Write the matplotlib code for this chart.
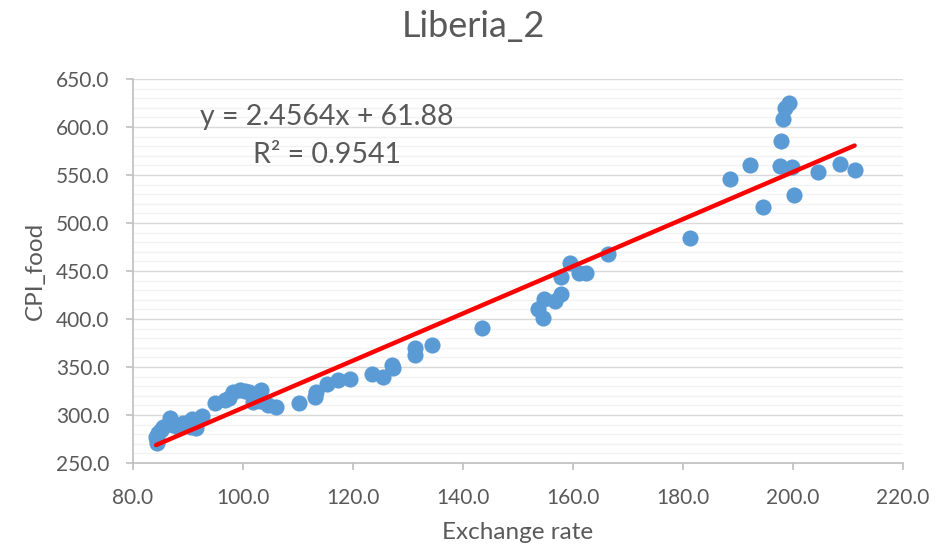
import matplotlib
matplotlib.use("Agg")
import matplotlib.pyplot as plt
import numpy as np
from matplotlib.ticker import MultipleLocator, FormatStrFormatter

plt.rcParams['font.family'] = ['Lato', 'DejaVu Sans']

title = "Liberia_2"
x_label = "Exchange rate"
y_label = "CPI_food"
slope = 2.4564
intercept = 61.88
r2 = 0.9541

exchange_rate = [84.3, 84.4, 84.2, 84.5, 85.0, 85.5, 86.7, 87.3, 88.2, 89.1,
                 90.2, 90.5, 90.8, 91.5, 92.5, 94.9, 96.7, 97.5, 98.2, 99.4,
                 100.3, 101.0, 101.8, 103.3, 103.0, 104.5, 106.0, 110.1, 113.1, 113.3,
                 115.3, 117.3, 119.4, 123.5, 125.5, 127.0, 127.2, 131.2, 131.3, 134.4,
                 143.4, 153.6, 154.6, 154.8, 156.8, 157.8, 157.8, 159.5, 161.0, 162.3,
                 166.4, 181.2, 188.5, 192.1, 194.5, 197.7, 199.9, 197.8, 198.1, 198.5,
                 199.2, 200.2, 204.5, 208.5, 211.2]
cpi_food = [270.8, 274.0, 277.4, 281.0, 284.0, 287.9, 296.5, 289.6, 287.0, 291.4,
            293.0, 287.0, 295.5, 286.0, 299.0, 313.0, 316.0, 318.0, 323.5, 326.0,
            325.0, 324.0, 314.0, 326.5, 315.0, 310.0, 308.0, 312.0, 319.0, 323.5,
            332.5, 336.0, 337.2, 342.2, 339.5, 352.5, 349.0, 363.0, 370.0, 372.5,
            390.5, 410.0, 401.0, 420.5, 419.0, 426.5, 443.5, 458.5, 447.5, 448.0,
            467.5, 484.5, 545.5, 560.0, 517.0, 559.5, 558.0, 585.0, 608.5, 620.0,
            625.5, 529.0, 553.0, 561.5, 555.5]

x_min, x_max, x_step = 80, 220, 20
y_min, y_max, y_step, y_minor = 250, 650, 50, 10

text_color = "#595959"
fig = plt.figure(figsize=(9.46, 5.47), dpi=100)
ax = fig.add_axes([133/946, 1 - 463/547, (903 - 133)/946, (463 - 79)/547])

ax.set_xlim(x_min, x_max)
ax.set_ylim(y_min, y_max)
ax.xaxis.set_major_locator(MultipleLocator(x_step))
ax.yaxis.set_major_locator(MultipleLocator(y_step))
ax.yaxis.set_minor_locator(MultipleLocator(y_minor))
ax.xaxis.set_major_formatter(FormatStrFormatter('%.1f'))
ax.yaxis.set_major_formatter(FormatStrFormatter('%.1f'))

ax.grid(which='minor', axis='y', color='#F2F2F2', linewidth=1.0, zorder=0)
ax.grid(which='major', axis='y', color='#D9D9D9', linewidth=1.0, zorder=0)
ax.set_axisbelow(True)

for s in ['top', 'right']:
    ax.spines[s].set_visible(False)
for s in ['left', 'bottom']:
    ax.spines[s].set_color('#BFBFBF')
    ax.spines[s].set_linewidth(1.2)

ax.tick_params(which='major', length=5, width=1.2, color='#BFBFBF',
               labelsize=15, labelcolor=text_color)
ax.tick_params(which='minor', length=0)
ax.tick_params(axis='y', pad=12)
ax.tick_params(axis='x', pad=13)

ax.scatter(exchange_rate, cpi_food, s=135, color='#5B9BD5', zorder=3, linewidths=0)

xs = np.array([min(exchange_rate), max(exchange_rate)])
ax.plot(xs, slope * xs + intercept, color='#FF0000', linewidth=3.2,
        solid_capstyle='round', zorder=4)

ax.set_xlabel(x_label, fontsize=17.5, color=text_color, labelpad=10)
ax.set_ylabel(y_label, fontsize=17.5, color=text_color, labelpad=7)

fig.text(0.5, 1 - 27/547, title, ha='center', va='center', fontsize=26, color=text_color)

fig.text(327/946, 1 - 117/547, f"y = {slope}x + {intercept}", ha='center', va='center',
         fontsize=20.5, color=text_color)
fig.text(327/946, 1 - 155/547, f"R² = {r2}", ha='center', va='center',
         fontsize=20.5, color=text_color)

fig.savefig("out.png", dpi=100)
